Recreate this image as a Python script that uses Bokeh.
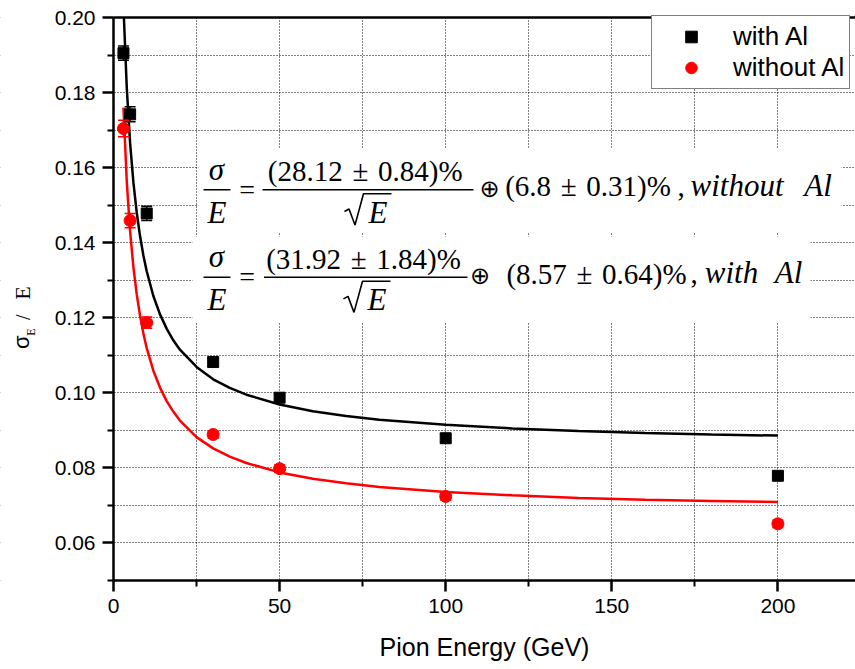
import math
from bokeh.plotting import figure
from bokeh.models import (ColumnDataSource, Whisker, TeeHead, Label,
                          BoxAnnotation, PolyAnnotation, FixedTicker,
                          PrintfTickFormatter)
from bokeh.embed import file_html
from bokeh.resources import INLINE

# ---------------- data ----------------
energy = [3, 5, 10, 30, 50, 100, 200]
res_with_al = [0.1905, 0.1742, 0.1478, 0.1082, 0.0987, 0.0879, 0.0779]
err_with_al = [0.0019, 0.0020, 0.0019, 0.0012, 0.0010, 0.0010, 0.0010]
res_without_al = [0.1704, 0.1459, 0.1187, 0.0889, 0.0798, 0.0724, 0.0651]
err_without_al = [0.0022, 0.0019, 0.0015, 0.0010, 0.0010, 0.0010, 0.0010]

fit_energy_with_al = [3.13, 4, 5, 6, 7, 8, 9, 10, 12, 14, 16, 18, 20, 25, 30,
                      35, 40, 50, 60, 70, 80, 100, 120, 140, 160, 180, 200]
fit_with_al = [0.2000, 0.1812, 0.1665, 0.1560, 0.1480, 0.1417, 0.1366,
               0.1324, 0.1258, 0.1209, 0.1171, 0.1140, 0.1115, 0.1069,
               0.1036, 0.1013, 0.0995, 0.0969, 0.0951, 0.0938, 0.0928,
               0.0915, 0.0905, 0.0898, 0.0893, 0.0889, 0.0886]
fit_energy_without_al = [3, 4, 5, 6, 7, 8, 9, 10, 12, 14, 16, 18, 20, 25, 30,
                         35, 40, 50, 60, 70, 80, 100, 120, 140, 160, 180, 200]
fit_without_al = [0.1760, 0.1562, 0.1430, 0.1334, 0.1262, 0.1205, 0.1158,
                  0.1119, 0.1059, 0.1014, 0.0978, 0.0950, 0.0926, 0.0882,
                  0.0852, 0.0830, 0.0813, 0.0788, 0.0771, 0.0759, 0.0749,
                  0.0736, 0.0727, 0.0720, 0.0715, 0.0712, 0.0709]

x_ticks = [0, 50, 100, 150, 200]
x_minor_ticks = [25, 75, 125, 175]
y_ticks = [0.06, 0.08, 0.10, 0.12, 0.14, 0.16, 0.18, 0.20]
y_minor_ticks = [0.05, 0.07, 0.09, 0.11, 0.13, 0.15, 0.17, 0.19]
y_tick_labels = ["0.06", "0.08", "0.10", "0.12", "0.14", "0.16", "0.18", "0.20"]

series_labels = ["with Al", "without Al"]
x_title = "Pion Energy (GeV)"

# ---------------- layout ----------------
W, H = 855, 669
AX_PX, TOP_PX, BOT_PX = 113, 17, 580      # pixel of x=0, y=0.20, y=0.05
XMIN, YMIN, YMAX = 0, 0.05, 0.20
PXU = 3.322                                 # pixels per GeV
PYU = (BOT_PX - TOP_PX) / (YMAX - YMIN)     # pixels per unit of sigma/E
XL, XR = -AX_PX / PXU, (W - AX_PX) / PXU
YT = YMAX + TOP_PX / PYU
YB = YMIN - (H - BOT_PX) / PYU
K = 0.32                                    # baseline correction of Label


def X(px):
    return (px - AX_PX) / PXU


def Y(py):
    return YMAX - (py - TOP_PX) / PYU


p = figure(width=W, height=H, x_range=(XL, XR), y_range=(YB, YT),
           output_backend="svg", toolbar_location=None, min_border=0)
p.outline_line_color = None
p.background_fill_color = "white"
p.border_fill_color = "white"

# axes (drawn inside the canvas at fixed positions)
p.xaxis.fixed_location = YMIN
p.yaxis.fixed_location = XMIN
p.xaxis.bounds = (XMIN, XR)
p.yaxis.bounds = (YMIN, YMAX)
p.xaxis.ticker = FixedTicker(ticks=x_ticks, minor_ticks=x_minor_ticks)
p.yaxis.ticker = FixedTicker(ticks=y_ticks, minor_ticks=y_minor_ticks)
p.yaxis.formatter = PrintfTickFormatter(format="%.2f")
p.yaxis.major_label_overrides = dict(zip(y_ticks, y_tick_labels))
for ax in (p.xaxis, p.yaxis):
    ax.axis_line_width = 2.5
    ax.axis_line_color = "black"
    ax.major_tick_line_width = 2.5
    ax.minor_tick_line_width = 2
    ax.major_tick_line_color = "black"
    ax.minor_tick_line_color = "black"
    ax.major_tick_in = 0
    ax.minor_tick_in = 0
    ax.major_tick_out = 11
    ax.minor_tick_out = 6
    ax.major_label_text_font = "Liberation Sans"
    ax.major_label_text_font_size = "21px"
    ax.major_label_text_color = "black"
p.yaxis.major_label_standoff = 7
p.xaxis.major_label_standoff = 7
p.xaxis.axis_label = x_title
p.xaxis.axis_label_text_font = "Liberation Sans"
p.xaxis.axis_label_text_font_size = "25px"
p.xaxis.axis_label_text_font_style = "normal"
p.xaxis.axis_label_text_color = "black"
p.xaxis.axis_label_standoff = 17

# grid
for g in (p.xgrid, p.ygrid):
    g.grid_line_color = "black"
    g.grid_line_dash = "1 2"
    g.grid_line_width = 1
    g.minor_grid_line_color = "black"
    g.minor_grid_line_dash = "1 2"
    g.minor_grid_line_width = 1

# keep the grid inside the plotting area
for kw in (dict(right=XMIN), dict(top=YMIN), dict(bottom=YMAX)):
    p.add_layout(BoxAnnotation(fill_color="white", fill_alpha=1.0,
                               line_color=None, level="underlay", **kw))

# white backgrounds of the two equation objects (hide the grid there)
for (l, r, t, b) in [(198, 841, 148, 232), (192, 810, 236, 322)]:
    p.add_layout(BoxAnnotation(left=X(l), right=X(r), top=Y(t), bottom=Y(b),
                               fill_color="white", fill_alpha=1.0,
                               line_color=None, level="underlay"))

# top frame line
p.add_layout(BoxAnnotation(left=XMIN, right=XR,
                           top=YMAX + 1.25 / PYU, bottom=YMAX - 1.25 / PYU,
                           fill_color="black", fill_alpha=1.0, line_color=None))

# fit curves
p.line(fit_energy_with_al, fit_with_al, line_color="black", line_width=2.5)
p.line(fit_energy_without_al, fit_without_al, line_color="#ff0000",
       line_width=2.5)

# error bars
src_w = ColumnDataSource(dict(
    x=energy,
    upper=[v + e for v, e in zip(res_with_al, err_with_al)],
    lower=[v - e for v, e in zip(res_with_al, err_with_al)]))
src_wo = ColumnDataSource(dict(
    x=energy,
    upper=[v + e for v, e in zip(res_without_al, err_without_al)],
    lower=[v - e for v, e in zip(res_without_al, err_without_al)]))
for src, col in ((src_w, "black"), (src_wo, "#ff0000")):
    p.add_layout(Whisker(source=src, base="x", upper="upper", lower="lower",
                         line_color=col, line_width=1.5, level="glyph",
                         upper_head=TeeHead(size=11, line_color=col, line_width=1.5),
                         lower_head=TeeHead(size=11, line_color=col, line_width=1.5)))

# data points
p.scatter(energy, res_with_al, marker="square", size=11, color="black",
          legend_label=series_labels[0])
p.scatter(energy, res_without_al, marker="circle", size=12, color="#ff0000",
          legend_label=series_labels[1])

# legend
lg = p.legend[0]
lg.location = (651, 580)
lg.border_line_color = "black"
lg.border_line_width = 1
lg.background_fill_color = "white"
lg.background_fill_alpha = 1
lg.padding = 5
lg.spacing = 0
lg.margin = 0
lg.glyph_width = 68
lg.glyph_height = 29
lg.label_height = 29
lg.label_standoff = 8
lg.label_text_font = "Liberation Sans"
lg.label_text_font_size = "26px"
lg.label_text_color = "black"


def lab(text, px, py, size, font="Liberation Serif", style="normal",
        align="left"):
    p.add_layout(Label(x=X(px), y=Y(py - K * size), text=text, text_font=font,
                       text_font_size=f"{size}px", text_font_style=style,
                       text_align=align, text_baseline="alphabetic",
                       text_color="black"))


def bar(x0, x1, py, th=1.6):
    p.add_layout(BoxAnnotation(left=X(x0), right=X(x1), top=Y(py - th / 2),
                               bottom=Y(py + th / 2), fill_color="black",
                               fill_alpha=1.0, line_color=None))


def radical(x0, dy, x_end):
    pts = [(x0, 211 + dy), (x0 + 4.5, 208.5 + dy), (x0 + 10.5, 224.5 + dy),
           (x0 + 19, 193.3 + dy), (x_end, 193.3 + dy)]
    path = pts + pts[-2:0:-1]
    p.add_layout(PolyAnnotation(xs=[X(a) for a, _ in path],
                                ys=[Y(b) for _, b in path],
                                fill_color=None, fill_alpha=0,
                                line_color="black", line_alpha=1.0,
                                line_width=1.6))


def formula(dy, numer, numer_cx, bar_x0, bar_x1, rad_x, oplus_cx, rest,
            rest_cx, comma_x, word, word_cx, al_cx):
    lab("σ", 216, 178.5 + dy, 31, style="italic", align="center")
    bar(203, 230, 189.3 + dy)
    lab("E", 216.5, 221.7 + dy, 31, style="italic", align="center")
    lab("=", 246.7, 197.5 + dy, 28, align="center")
    lab(numer, numer_cx, 180 + dy, 29, align="center")
    bar(bar_x0, bar_x1, 189.3 + dy)
    radical(rad_x, dy, rad_x + 47)
    lab("E", rad_x + 33.5, 221.7 + dy, 31, style="italic", align="center")
    lab("⊕", oplus_cx, 196 + dy, 24, font="DejaVu Sans", align="center")
    lab(rest, rest_cx, 195 + dy, 29, align="center")
    lab(",", comma_x, 195 + dy, 29)
    lab(word, word_cx, 195 + dy, 31, style="italic", align="center")
    lab("Al", al_cx, 195 + dy, 31, style="italic", align="center")


SP = "\u2004"
formula(0, f"(28.12{SP}±{SP}0.84)%", 364.7, 262, 473, 344, 489,
        f"(6.8{SP}±{SP}0.31)%", 587.5, 677, "without", 736.5, 817.5)
formula(87.4, f"(31.92{SP}±{SP}1.84)%", 363, 263.5, 467, 343, 479.5,
        f"(8.57{SP}±{SP}0.64)%", 596, 690, "with", 731, 788)

# ---------------- y title:  σ_E / E  (rotated) ----------------
rot = math.pi / 2


def ylab(text, cx, cy, size, font="Liberation Serif"):
    p.add_layout(Label(x=X(cx), y=Y(cy), text=text, text_font=font,
                       text_font_size=f"{size}px", text_align="center",
                       text_baseline="middle", text_color="black",
                       angle=rot))


ylab("σ", 20.5, 341.7, 22, font="Liberation Sans")
ylab("E", 30.8, 331.7, 12)
ylab("/", 22.3, 316.7, 20)
ylab("E", 21.7, 292.5, 22)

open("out.html", "w").write(file_html(p, INLINE))
